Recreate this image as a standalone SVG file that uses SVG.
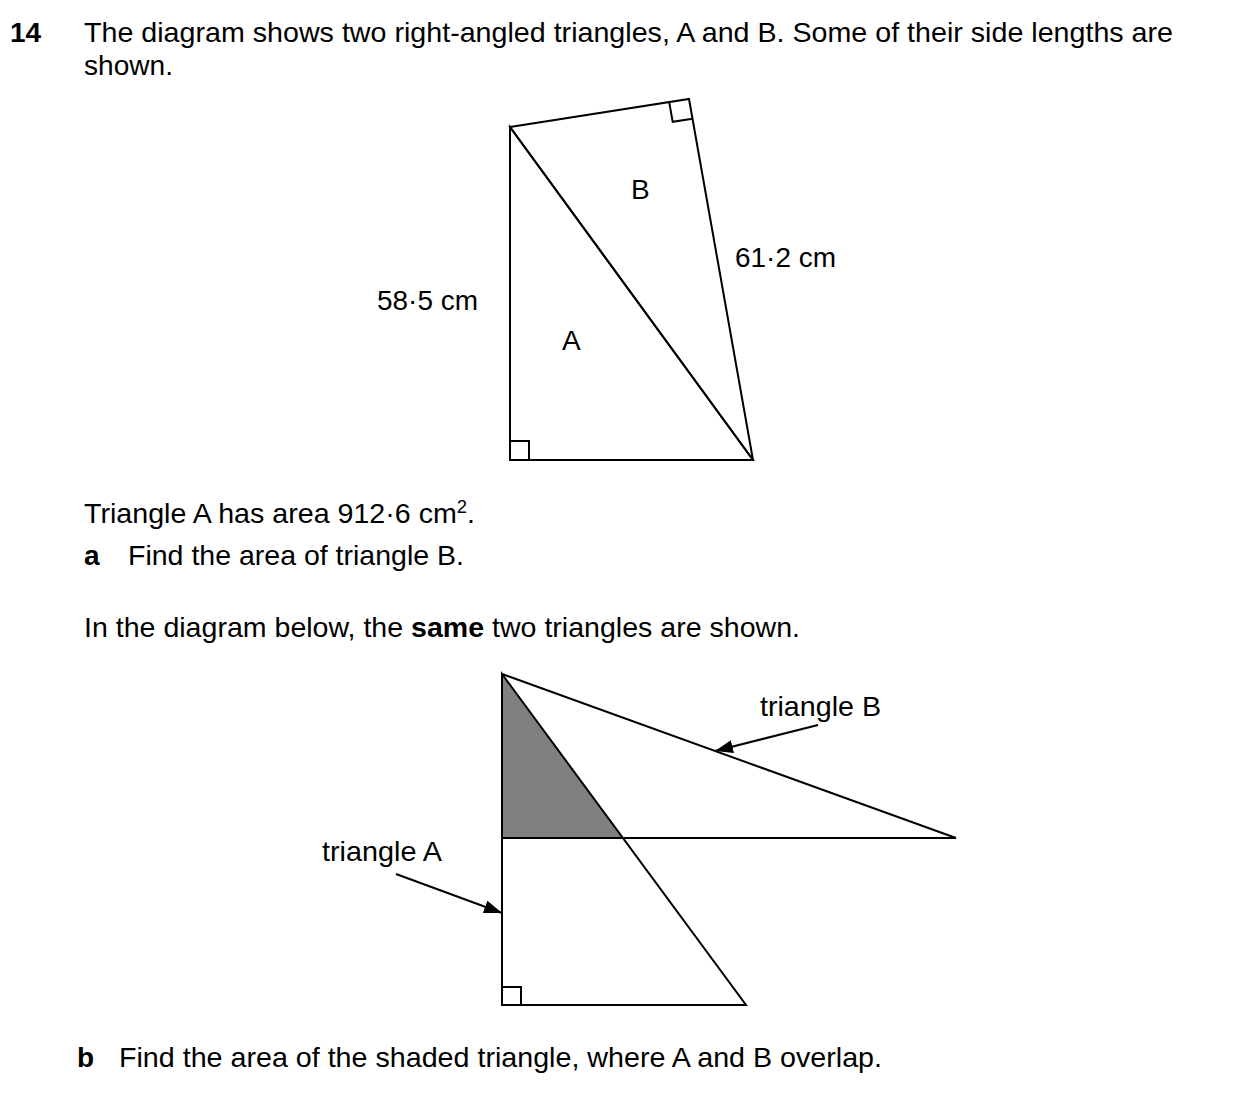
<svg xmlns="http://www.w3.org/2000/svg" width="1240" height="1096" viewBox="0 0 1240 1096">
<defs>
<style>
text{font-family:"Liberation Sans",Arial,sans-serif;font-size:28px;fill:#000}
.b{font-weight:bold}
.ln{fill:none;stroke:#000;stroke-width:2;stroke-linejoin:miter}
.ra{fill:none;stroke:#000;stroke-width:2}
</style>
<marker id="ah" viewBox="0 0 18 13" refX="18" refY="6.5" markerWidth="18" markerHeight="13" markerUnits="userSpaceOnUse" orient="auto">
<path d="M0,0 L18,6.5 L0,13 Z" fill="#000"/>
</marker>
</defs>
<rect width="1240" height="1096" fill="#fff"/>

<g id="header">
<text class="b" x="10" y="42">14</text>
<text x="84" y="42" textLength="1089" lengthAdjust="spacingAndGlyphs">The diagram shows two right-angled triangles, A and B. Some of their side lengths are</text>
<text x="84" y="75" textLength="89" lengthAdjust="spacingAndGlyphs">shown.</text>
</g>

<g id="triangleA-top">
<polygon class="ln" points="510,127 510,460 753,460"/>
<polyline class="ra" points="510,441 529,441 529,460"/>
<text x="562" y="350">A</text>
<text x="377" y="310" textLength="101" lengthAdjust="spacingAndGlyphs">58·5 cm</text>
</g>
<g id="triangleB-top">
<polygon class="ln" points="510,127 689,99 753,460"/>
<polyline class="ra" points="669.2,102.1 672.7,121.8 692.5,118.7"/>
<text x="631" y="199">B</text>
<text x="735" y="267" textLength="101" lengthAdjust="spacingAndGlyphs">61·2 cm</text>
</g>

<g id="text-a">
<text x="84" y="523" textLength="391" lengthAdjust="spacingAndGlyphs">Triangle A has area 912·6 cm<tspan font-size="18" dy="-10">2</tspan><tspan dy="10">.</tspan></text>
<text class="b" x="84" y="565">a</text>
<text x="128" y="565" textLength="336" lengthAdjust="spacingAndGlyphs">Find the area of triangle B.</text>
<text x="84" y="637" textLength="716" lengthAdjust="spacingAndGlyphs">In the diagram below, the <tspan class="b">same</tspan> two triangles are shown.</text>
</g>

<g id="shaded">
<polygon points="502,674 502,838 623,838" fill="#808080" stroke="none"/>
</g>
<g id="triangleA-bottom">
<polygon class="ln" points="502,674 502,1005 746,1005"/>
<polyline class="ra" points="502,987 521,987 521,1005"/>
<text x="322" y="861" textLength="120" lengthAdjust="spacingAndGlyphs">triangle A</text>
</g>
<g id="triangleB-bottom">
<polygon class="ln" points="502,674 502,838 956,838"/>
<text x="760" y="716" textLength="121" lengthAdjust="spacingAndGlyphs">triangle B</text>
</g>

<g id="connectors">
<line x1="818" y1="725" x2="715" y2="751" stroke="#000" stroke-width="2" marker-end="url(#ah)"/>
<line x1="396" y1="874" x2="502" y2="913" stroke="#000" stroke-width="2" marker-end="url(#ah)"/>
</g>

<g id="text-b">
<text class="b" x="77" y="1067">b</text>
<text x="119" y="1067" textLength="763" lengthAdjust="spacingAndGlyphs">Find the area of the shaded triangle, where A and B overlap.</text>
</g>
</svg>
